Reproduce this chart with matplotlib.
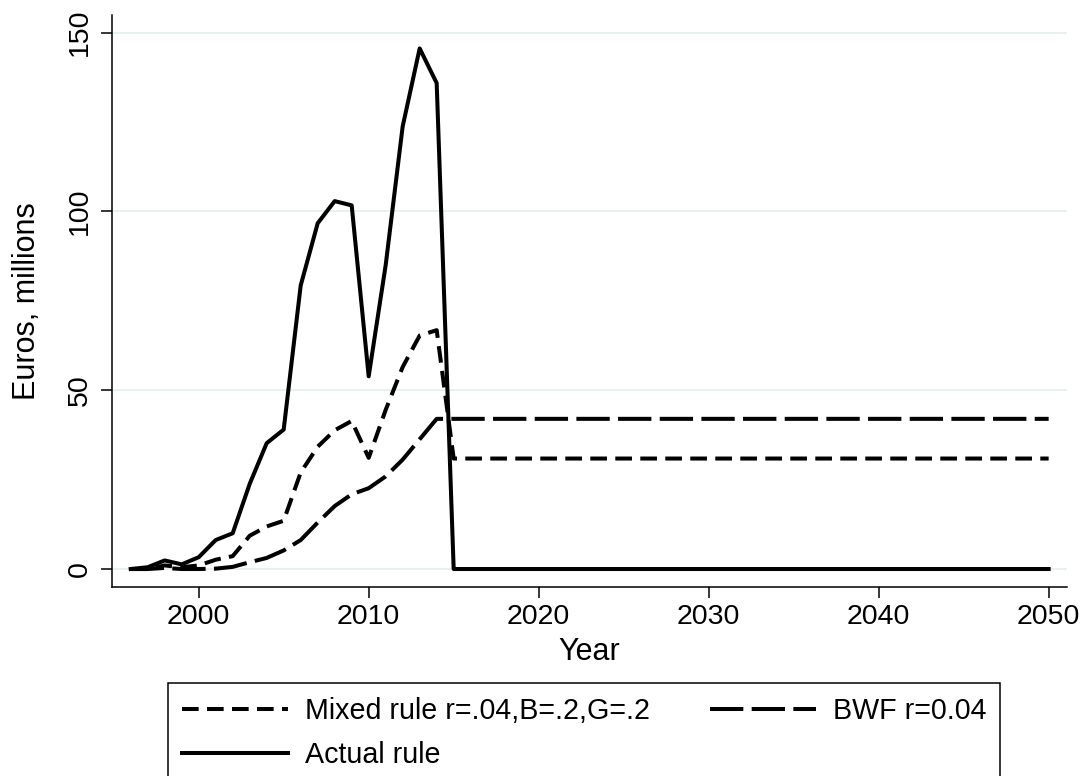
import numpy as np
import matplotlib
matplotlib.use('Agg')
import matplotlib.pyplot as plt

plt.rcParams['font.family'] = ['Liberation Sans', 'DejaVu Sans']
plt.rcParams['lines.scale_dashes'] = False

# data (euros, millions); flat after 2015 up to 2050
years = [1996, 1997, 1998, 1999, 2000, 2001, 2002, 2003, 2004, 2005, 2006,
         2007, 2008, 2009, 2010, 2011, 2012, 2013, 2014, 2015, 2050]
mixed_rule = [0, 0, 1.0, 0.5, 1.0, 2.6, 3.6, 9.3, 11.9, 13.5, 27.0,
              34.2, 38.8, 41.4, 31.1, 44.5, 56.5, 65.3, 66.8, 30.9, 30.9]
bwf = [0, 0, 0.3, 0, 0, 0.1, 0.6, 1.9, 3.1, 5.2, 8.1,
       13.0, 17.6, 20.9, 22.6, 25.9, 30.6, 36.3, 42.0, 42.0, 42.0]
actual_rule = [0, 0.5, 2.4, 1.3, 3.3, 8.1, 10.0, 23.8, 35.2, 39.0, 79.3,
               96.7, 102.9, 101.7, 53.9, 85.0, 123.8, 145.6, 135.9, 0, 0]

series_labels = ['Mixed rule r=.04,B=.2,G=.2', 'BWF r=0.04', 'Actual rule']
x_ticks = [2000, 2010, 2020, 2030, 2040, 2050]
y_ticks = [0, 50, 100, 150]

W, H = 1091, 776
fig = plt.figure(figsize=(W / 100, H / 100), dpi=100)
ax = fig.add_axes([112 / W, 1 - 587 / H, 955 / W, 572 / H])

lw = 2.9
l_mixed, = ax.plot(years, mixed_rule, color='black', lw=lw,
                   linestyle=(0, (12, 6)), label=series_labels[0])
l_bwf, = ax.plot(years, bwf, color='black', lw=lw,
                 linestyle=(0, (24, 6)), label=series_labels[1])
l_actual, = ax.plot(years, actual_rule, color='black', lw=lw,
                    linestyle='-', label=series_labels[2])

ax.set_xlim(1994.9, 2051.08)
ax.set_ylim(-5.03, 154.95)
ax.set_xticks(x_ticks)
ax.set_yticks(y_ticks)
ax.grid(axis='y', color='#e6eff1', lw=1.3)
ax.set_axisbelow(True)

for s in ['top', 'right']:
    ax.spines[s].set_visible(False)
for s in ['left', 'bottom']:
    ax.spines[s].set_linewidth(1.1)

ax.tick_params(axis='both', length=8, width=1.1, labelsize=20.5, color='black')
ax.tick_params(axis='x', pad=4.5)
ax.tick_params(axis='y', pad=5.5)
plt.setp(ax.get_yticklabels(), rotation=90, va='center')

ax.set_xlabel('Year', fontsize=22)
ax.set_ylabel('Euros, millions', fontsize=22)
ax.xaxis.set_label_coords(0.5, -0.0869)
ax.yaxis.set_label_coords(-0.0731, 0.5)

leg = fig.legend([l_mixed, l_actual, l_bwf],
                 [series_labels[0], series_labels[2], series_labels[1]],
                 loc='upper left', bbox_to_anchor=(168 / W, 1 - 683 / H),
                 bbox_transform=fig.transFigure, ncol=2, fontsize=20.6,
                 frameon=True, fancybox=False, framealpha=1,
                 edgecolor='black', borderpad=0.48, borderaxespad=0,
                 handlelength=3.7, handletextpad=0.6, columnspacing=2.1,
                 labelspacing=0.58)
leg.get_frame().set_linewidth(1.1)

fig.savefig('out.png', dpi=100)
